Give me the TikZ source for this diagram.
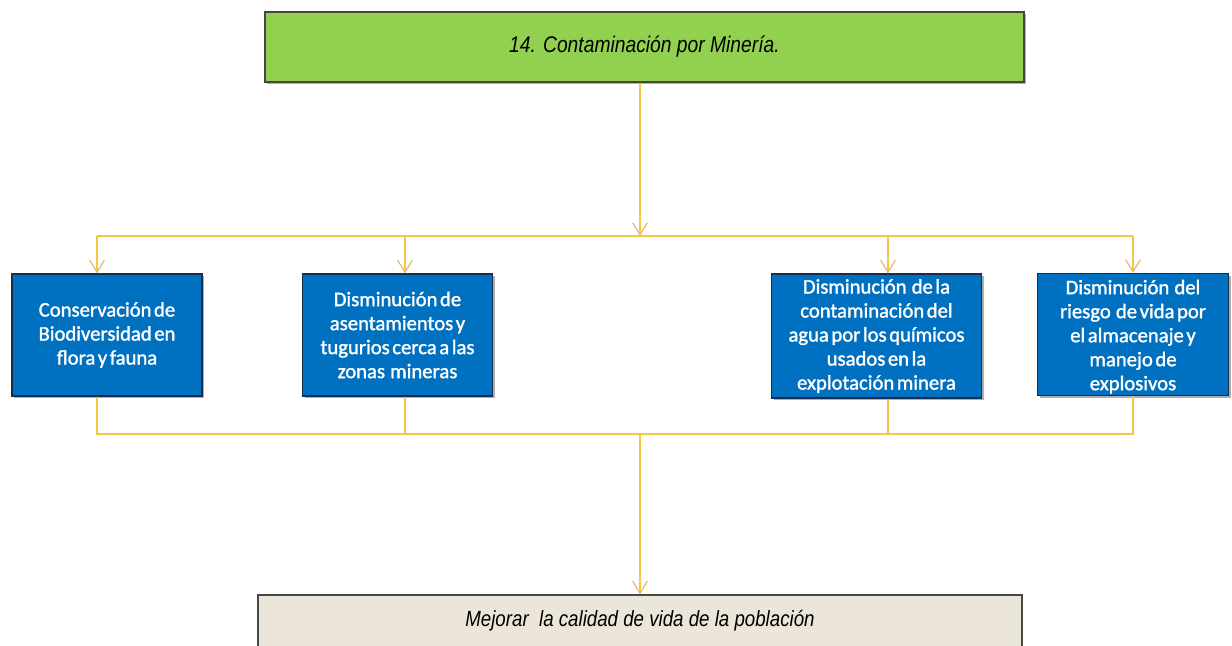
\documentclass[tikz,border=0pt]{standalone}
\usepackage{fontspec}
\setmainfont{Liberation Sans}
\newfontfamily\narrowfont[FakeStretch=0.85]{Liberation Sans}
\newfontfamily\boxfont[FakeBold=1.5,WordSpace=0.55]{Carlito}
\usetikzlibrary{arrows.meta,shadows}
\definecolor{topgreen}{RGB}{146,208,80}
\definecolor{boxblue}{RGB}{0,112,192}
\definecolor{boxedge}{RGB}{25,45,80}
\definecolor{beige}{RGB}{236,229,218}
\definecolor{edgegray}{RGB}{70,70,70}
\definecolor{linkyellow}{RGB}{242,200,70}
\definecolor{tipcol}{RGB}{228,185,105}
\tikzset{
  shade/.style={drop shadow={shadow xshift=1.8pt,shadow yshift=-1.8pt,opacity=0.45,fill=black!70}},
  titlebox/.style={draw=edgegray,line width=1pt,fill=topgreen,shade,inner sep=0pt,
    font=\narrowfont\fontsize{17}{20}\selectfont\itshape},
  bluebox/.style={draw=boxedge,line width=0.9pt,fill=boxblue,shade,inner sep=0pt,text=white,
    align=center,font=\boxfont\fontsize{15.5}{18}\selectfont},
  goalbox/.style={draw=edgegray,line width=1pt,fill=beige,inner sep=0pt,
    font=\narrowfont\fontsize{16.5}{19}\selectfont\itshape},
  link/.style={draw=linkyellow,line width=0.9pt},
  arr/.style={link,-{Straight Barb[length=9pt,width=11pt,line width=0.9pt,color=tipcol]}}
}
\begin{document}
\begin{tikzpicture}[x=0.75pt,y=-0.75pt]
\useasboundingbox (0,0) rectangle (1232,646);
% nodes
\node[titlebox,minimum width=569.25pt,minimum height=52.5pt] (top) at (644.5,47) {14. Contaminación por Minería.};
\node[bluebox,minimum width=142.5pt,minimum height=91.5pt] (b1) at (107,335) {Conservación de\\Biodiversidad en\\flora y fauna};
\node[bluebox,minimum width=142.5pt,minimum height=91.5pt] (b2) at (397.5,335) {Disminución de\\asentamientos y\\tugurios cerca a las\\zonas\ \ mineras};
\node[bluebox,minimum width=157.5pt,minimum height=93pt] (b3) at (876.5,336) {Disminución\ \ de la\\contaminación del\\agua por los químicos\\usados en la\\explotación minera};
\node[bluebox,minimum width=143.25pt,minimum height=91.5pt] (b4) at (1133,334.5) {\rule{0pt}{14pt}Disminución\ \ del\\riesgo\ \ de vida por\\el almacenaje y\\manejo de\\explosivos};
\node[goalbox,minimum width=573pt,minimum height=39pt] (goal) at (640,621) {Mejorar\ \ la calidad de vida de la población};
% junction coordinates
\coordinate (jt) at (640,236);
\coordinate (t1) at (97,236);
\coordinate (t2) at (405,236);
\coordinate (t3) at (888,236);
\coordinate (t4) at (1133,236);
\coordinate (jb) at (640,434);
\coordinate (u1) at (97,434);
\coordinate (u2) at (405,434);
\coordinate (u3) at (888,434);
\coordinate (u4) at (1133,434);
% connectors
\draw[arr] (top.south -| jt) -- (jt);
\draw[link] (t1) -- (t4);
\draw[arr] (t1) -- (t1 |- b1.north);
\draw[arr] (t2) -- (t2 |- b2.north);
\draw[arr] (t3) -- (t3 |- b3.north);
\draw[arr] (t4) -- (t4 |- b4.north);
\draw[link] (u1 |- b1.south) -- (u1) -- (u4) -- (u4 |- b4.south);
\draw[link] (u2 |- b2.south) -- (u2);
\draw[link] (u3 |- b3.south) -- (u3);
\draw[arr] (jb) -- (jb |- goal.north);
\end{tikzpicture}
\end{document}
